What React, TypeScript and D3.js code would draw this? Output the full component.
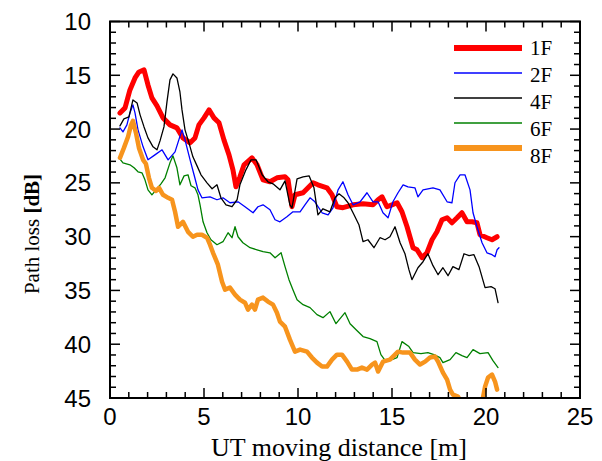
import React from 'react';
import * as d3 from 'd3';

const xTicks = [0, 5, 10, 15, 20, 25];
const yTicks = [10, 15, 20, 25, 30, 35, 40, 45];
const seriesNames = ['1F', '2F', '4F', '6F', '8F'];
const seriesColors = ['#ff0000', '#0000ff', '#000000', '#008000', '#f7941d'];
const seriesWidths = [5, 1.3, 1.3, 1.3, 4.5];

const pl1F: [number, number][] = [
  [0.53, 18.5], [0.8, 18.03], [1.06, 16.36], [1.33, 15.25], [1.54, 14.69], [1.81, 14.5], [2.02, 15.9],
  [2.23, 17.1], [2.5, 17.85], [2.82, 18.96], [3.19, 19.61], [3.56, 19.89], [3.88, 20.82], [4.26, 21.28],
  [4.52, 20.82], [4.73, 19.61], [5.0, 18.96], [5.27, 18.22], [5.53, 18.96], [5.8, 19.42], [6.06, 21.0],
  [6.33, 22.4], [6.54, 23.79], [6.7, 25.37], [6.91, 24.44], [7.13, 23.32], [7.55, 22.67], [7.82, 23.32],
  [8.14, 24.72], [8.51, 24.9], [8.88, 24.53], [9.31, 24.44], [9.47, 24.72], [9.68, 27.22], [9.84, 26.11],
  [10.27, 25.92], [10.8, 24.99], [11.06, 25.18], [11.54, 25.46], [11.81, 26.11], [12.07, 27.22],
  [12.39, 27.31], [12.93, 27.04], [13.46, 26.95], [13.99, 27.04], [14.26, 26.57], [14.47, 26.3],
  [14.73, 27.22], [15.0, 27.04], [15.27, 26.85], [15.53, 27.69], [15.8, 29.08], [16.12, 31.03],
  [16.33, 31.22], [16.6, 31.96], [16.86, 31.5], [17.13, 30.29], [17.39, 29.55], [17.66, 28.43],
  [17.93, 28.25], [18.19, 28.71], [18.46, 28.25], [18.72, 27.78], [18.99, 28.62], [19.26, 28.62],
  [19.52, 28.71], [19.68, 29.82], [20.05, 30.1], [20.32, 30.29], [20.59, 30.01],
];

const pl2F: [number, number][] = [
  [0.53, 19.89], [0.69, 20.26], [0.9, 19.61], [1.06, 18.5], [1.22, 17.75], [1.33, 18.5], [1.49, 20.07],
  [1.76, 21.65], [2.02, 22.86], [2.39, 22.4], [2.77, 21.93], [3.09, 22.86], [3.46, 22.12], [3.83, 20.07],
  [3.99, 21.0], [4.26, 22.86], [4.47, 24.25], [4.68, 25.65], [4.89, 26.39], [5.32, 26.3], [5.69, 26.57],
  [6.01, 26.39], [6.38, 26.85], [6.81, 26.76], [7.18, 27.22], [7.61, 27.78], [7.87, 27.22], [8.14, 27.04],
  [8.51, 27.5], [8.78, 28.43], [9.04, 28.62], [9.41, 28.15], [9.73, 27.69], [10.11, 27.69], [10.37, 27.04],
  [10.64, 26.39], [10.9, 26.76], [11.28, 27.78], [11.6, 27.97], [11.86, 27.32], [12.13, 25.65],
  [12.39, 24.9], [12.66, 26.11], [12.93, 27.04], [13.3, 26.76], [13.67, 25.92], [13.99, 26.76],
  [14.26, 26.76], [14.52, 27.78], [14.79, 28.25], [15.05, 26.76], [15.32, 25.92], [15.59, 25.18],
  [15.85, 25.37], [16.22, 25.46], [16.38, 26.3], [16.65, 25.65], [17.18, 25.46], [17.55, 25.65],
  [17.93, 26.76], [18.19, 26.85], [18.35, 24.99], [18.62, 24.25], [18.88, 24.25], [19.15, 25.65],
  [19.31, 27.78], [19.52, 29.08], [19.79, 30.57], [20.05, 31.5], [20.32, 31.68], [20.48, 31.87],
  [20.59, 31.22], [20.69, 31.03],
];

const pl4F: [number, number][] = [
  [0.53, 19.7], [0.74, 19.05], [1.01, 18.87], [1.22, 17.29], [1.44, 17.57], [1.6, 18.68], [1.81, 19.8],
  [2.02, 20.82], [2.29, 21.65], [2.5, 21.93], [2.66, 21.1], [2.87, 19.8], [3.03, 17.47], [3.19, 15.43],
  [3.35, 14.87], [3.56, 15.25], [3.72, 16.55], [3.83, 18.22], [3.99, 20.07], [4.2, 21.28], [4.41, 22.58],
  [4.63, 23.42], [4.84, 24.25], [5.16, 25.0], [5.43, 25.55], [5.69, 25.18], [5.9, 26.39], [6.17, 27.04],
  [6.49, 27.22], [6.76, 26.57], [6.91, 25.18], [7.23, 23.79], [7.5, 22.86], [7.77, 22.86], [8.09, 24.25],
  [8.4, 24.9], [8.67, 25.09], [9.04, 25.65], [9.31, 24.81], [9.57, 27.04], [9.68, 27.32], [9.95, 24.62],
  [10.27, 24.44], [10.59, 24.35], [10.85, 25.46], [11.06, 27.97], [11.33, 27.41], [11.7, 27.69],
  [11.97, 26.39], [12.18, 26.02], [12.45, 26.39], [12.66, 26.85], [12.98, 27.97], [13.24, 28.89],
  [13.46, 30.47], [13.72, 30.29], [14.04, 31.03], [14.36, 30.1], [14.63, 30.29], [14.89, 30.01],
  [15.16, 29.08], [15.43, 30.57], [15.69, 31.59], [15.9, 33.07], [16.06, 34.0], [16.38, 32.89],
  [16.65, 32.33], [16.91, 31.59], [17.18, 32.7], [17.45, 33.54], [17.71, 32.89], [17.98, 33.63],
  [18.24, 32.79], [18.56, 33.07], [18.83, 31.59], [19.1, 31.77], [19.36, 31.68], [19.63, 32.79],
  [19.95, 34.74], [20.27, 34.65], [20.48, 34.84], [20.64, 36.14],
];

const pl6F: [number, number][] = [
  [0.48, 22.67], [0.69, 23.14], [1.06, 23.32], [1.28, 23.6], [1.49, 23.97], [1.7, 24.07], [1.86, 24.72],
  [2.02, 25.65], [2.23, 26.11], [2.45, 25.65], [2.71, 25.09], [2.93, 24.53], [3.19, 23.14], [3.35, 22.49],
  [3.56, 23.6], [3.72, 25.18], [3.94, 24.35], [4.15, 24.25], [4.31, 25.27], [4.52, 25.46], [4.68, 26.11],
  [4.79, 27.04], [4.95, 28.62], [5.16, 29.64], [5.37, 30.29], [5.69, 30.75], [6.01, 30.47], [6.28, 29.64],
  [6.49, 30.1], [6.65, 29.08], [6.81, 30.01], [7.07, 30.57], [7.45, 31.03], [7.82, 31.22], [8.14, 31.4],
  [8.51, 31.5], [8.78, 31.96], [9.1, 31.5], [9.31, 32.79], [9.52, 34.0], [9.73, 34.93], [9.95, 35.86],
  [10.27, 36.32], [10.64, 36.6], [11.01, 37.25], [11.33, 37.53], [11.7, 36.97], [12.02, 38.09],
  [12.5, 37.07], [12.77, 38.09], [13.09, 38.65], [13.46, 39.29], [13.83, 39.48], [14.2, 39.76],
  [14.41, 40.97], [14.68, 41.62], [14.99, 41.43], [15.27, 41.24], [15.53, 39.76], [15.9, 40.22],
  [16.12, 40.78], [16.54, 40.87], [16.91, 40.78], [17.23, 40.97], [17.55, 41.24], [17.71, 41.71],
  [18.09, 41.43], [18.4, 40.78], [18.72, 41.06], [18.99, 41.24], [19.31, 40.5], [19.68, 40.87],
  [20.11, 40.78], [20.37, 41.52], [20.64, 42.17],
];

const pl8F: [number, number][] = [
  [0.53, 22.67], [0.74, 21.75], [0.96, 20.72], [1.12, 19.61], [1.22, 19.24], [1.38, 20.35], [1.54, 21.75],
  [1.76, 22.86], [1.91, 23.23], [2.07, 24.53], [2.23, 25.46], [2.45, 25.74], [2.61, 25.46], [2.82, 26.11],
  [3.09, 26.39], [3.3, 26.57], [3.46, 27.69], [3.62, 29.08], [3.88, 28.62], [4.15, 29.55], [4.41, 30.01],
  [4.63, 29.82], [4.89, 29.82], [5.16, 30.1], [5.32, 30.75], [5.48, 31.5], [5.74, 32.61], [5.96, 34.19],
  [6.12, 34.93], [6.38, 34.74], [6.65, 35.39], [6.91, 35.86], [7.18, 36.14], [7.34, 36.78], [7.55, 36.32],
  [7.71, 36.78], [7.87, 35.86], [8.14, 35.67], [8.4, 36.04], [8.67, 36.32], [8.88, 37.07], [9.04, 37.9],
  [9.31, 38.37], [9.57, 39.57], [9.84, 40.69], [10.11, 40.5], [10.48, 40.69], [10.74, 41.24],
  [11.01, 41.71], [11.28, 42.08], [11.54, 42.08], [11.81, 41.43], [12.07, 40.97], [12.34, 40.97],
  [12.61, 41.62], [12.87, 42.36], [13.14, 42.36], [13.4, 42.17], [13.67, 42.36], [13.94, 41.89],
  [14.1, 41.71], [14.26, 42.54], [14.52, 41.62], [14.89, 41.43], [15.16, 40.97], [15.32, 40.69],
  [15.59, 40.78], [15.96, 40.78], [16.22, 41.43], [16.49, 41.89], [16.76, 41.62], [17.02, 41.24],
  [17.29, 41.15], [17.45, 41.62], [17.71, 42.64], [17.93, 43.29], [18.09, 44.22], [18.24, 44.68],
  [18.51, 44.87], [18.72, 45.6], [19.1, 46.8], [19.5, 46.6], [19.84, 44.96], [19.95, 43.94],
  [20.11, 43.1], [20.32, 42.82], [20.48, 43.47], [20.59, 44.22],
];

const seriesData = [pl1F, pl2F, pl4F, pl6F, pl8F];

const W = 602;
const H = 461;
const L = 110, R = 580, T = 21.5, B = 398;

export default function App() {
  const x = d3.scaleLinear().domain([0, 25]).range([L, R]);
  const y = d3.scaleLinear().domain([10, 45]).range([T, B]);
  const line = d3.line<[number, number]>().x(d => x(d[0])).y(d => y(d[1]));
  const xMinor = d3.range(0, 26, 1);
  const yMinor = d3.range(10, 46, 1);
  const sans = 'Liberation Sans, Arial, sans-serif';
  const serif = 'Liberation Serif, Times New Roman, serif';

  return (
    <svg width={W} height={H} style={{ position: 'absolute', left: 0, top: 0, background: '#fff' }}>
      <defs>
        <clipPath id="plotclip">
          <rect x={L} y={T} width={R - L} height={B - T} />
        </clipPath>
      </defs>
      <rect x={0} y={0} width={W} height={H} fill="#fff" />
      <g clipPath="url(#plotclip)">
        {seriesData.map((d, i) => (
          <path key={i} d={line(d) || ''} fill="none" stroke={seriesColors[i]}
            strokeWidth={seriesWidths[i]} strokeLinejoin="round" strokeLinecap="round" />
        ))}
      </g>
      {/* frame */}
      <rect x={L} y={T} width={R - L} height={B - T} fill="none" stroke="#000" strokeWidth={2} />
      {/* x ticks */}
      {xMinor.map(v => {
        const len = v % 5 === 0 ? 10 : 6;
        return (
          <g key={'xt' + v}>
            <line x1={x(v)} x2={x(v)} y1={B} y2={B - len} stroke="#000" strokeWidth={1.5} />
            <line x1={x(v)} x2={x(v)} y1={T} y2={T + len} stroke="#000" strokeWidth={1.5} />
          </g>
        );
      })}
      {yMinor.map(v => {
        const len = v % 5 === 0 ? 10 : 6;
        return (
          <g key={'yt' + v}>
            <line x1={L} x2={L + len} y1={y(v)} y2={y(v)} stroke="#000" strokeWidth={1.5} />
            <line x1={R} x2={R - len} y1={y(v)} y2={y(v)} stroke="#000" strokeWidth={1.5} />
          </g>
        );
      })}
      {xTicks.map(v => (
        <text key={'xl' + v} x={x(v)} y={425} textAnchor="middle" fontFamily={sans} fontSize={24} fill="#000">{v}</text>
      ))}
      {yTicks.map(v => (
        <text key={'yl' + v} x={91} y={y(v) + 8.5} textAnchor="end" fontFamily={sans} fontSize={24} fill="#000">{v}</text>
      ))}
      <text x={339} y={456} textAnchor="middle" fontFamily={serif} fontSize={26} fill="#000">UT moving distance [m]</text>
      <text transform={`translate(39,234) rotate(-90)`} textAnchor="middle" fontFamily={serif} fontSize={21} fill="#000">
        Path loss <tspan fontWeight="bold">[dB]</tspan>
      </text>
      {/* legend */}
      {seriesNames.map((n, i) => (
        <g key={'lg' + n}>
          <line x1={454} x2={522} y1={48 + i * 25} y2={48 + i * 25} stroke={seriesColors[i]} strokeWidth={seriesWidths[i] === 1.3 ? 1.5 : 6} />
          <text x={530} y={55 + i * 27} fontFamily={serif} fontSize={21} fill="#000">{n}</text>
        </g>
      ))}
    </svg>
  );
}
